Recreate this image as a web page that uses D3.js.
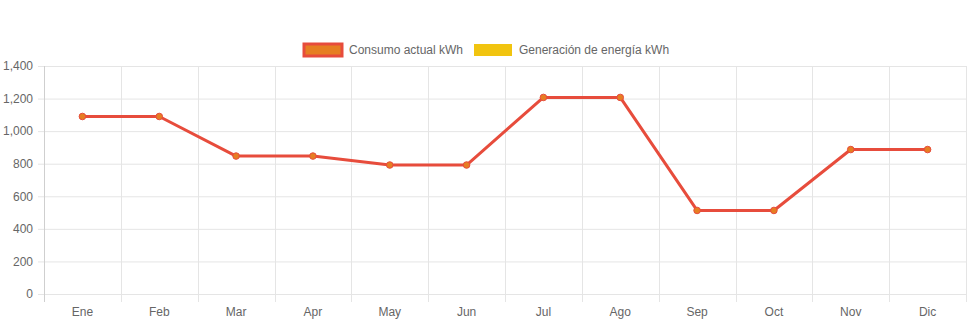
<!DOCTYPE html>
<html>
<head>
<meta charset="utf-8">
<script src="https://cdn.jsdelivr.net/npm/d3@7"></script>
<style>
  html, body { margin: 0; padding: 0; background: #fff; }
  svg { display: block; }
  text { font-family: "Liberation Sans", Arial, Helvetica, sans-serif; }
</style>
</head>
<body>
<svg id="chart" width="971" height="323"></svg>
<script>
// Monthly energy data (kWh)
const months = ["Ene", "Feb", "Mar", "Apr", "May", "Jun", "Jul", "Ago", "Sep", "Oct", "Nov", "Dic"];
const consumo = [1090, 1090, 847, 847, 792, 792, 1207, 1207, 513, 513, 887, 887];
const generacion = [];
const yTicks = [0, 200, 400, 600, 800, 1000, 1200, 1400];
const seriesNames = ["Consumo actual kWh", "Generación de energía kWh"];

const svg = d3.select("#chart");
const W = 971, H = 323;
const margin = { top: 66, right: 5, bottom: 29, left: 44 };
const innerW = W - margin.left - margin.right;
const innerH = H - margin.top - margin.bottom;

const x = d3.scaleBand().domain(months).range([margin.left, margin.left + innerW]);
const y = d3.scaleLinear().domain([0, 1400]).range([margin.top + innerH, margin.top]);

const gridColor = "#e5e5e5";
const textColor = "#666";

// Horizontal grid lines with left tick marks
const yAxis = d3.axisLeft(y)
  .tickValues(yTicks)
  .tickSize(-innerW - 6)
  .tickFormat(d3.format(","));
const gy = svg.append("g")
  .attr("transform", `translate(${margin.left - 6 + 6},0)`)
  .call(yAxis);
gy.select(".domain").remove();
gy.selectAll(".tick line")
  .attr("x1", -6).attr("x2", innerW)
  .attr("stroke", gridColor);
gy.selectAll(".tick text")
  .attr("x", -11)
  .attr("fill", textColor)
  .style("font-size", "12px");

// Vertical grid lines at category boundaries
const bounds = months.map(m => x(m)).concat([margin.left + innerW]);
svg.append("g").selectAll("line")
  .data(bounds)
  .join("line")
  .attr("x1", d => Math.round(d) + 0.5).attr("x2", d => Math.round(d) + 0.5)
  .attr("y1", margin.top).attr("y2", margin.top + innerH + 8)
  .attr("stroke", (d, i) => i === 0 ? "#cfcfcf" : gridColor);

// X axis labels
const gx = svg.append("g")
  .attr("transform", `translate(0,${margin.top + innerH})`)
  .call(d3.axisBottom(x).tickSize(0).tickPadding(13));
gx.select(".domain").remove();
gx.selectAll(".tick text")
  .attr("fill", textColor)
  .style("font-size", "12px");

// Consumption line
const line = d3.line()
  .x((d, i) => x(months[i]) + x.bandwidth() / 2)
  .y(d => y(d));

svg.append("path")
  .datum(consumo)
  .attr("d", line)
  .attr("fill", "none")
  .attr("stroke", "#e74c3c")
  .attr("stroke-width", 3)
  .attr("stroke-linejoin", "round");

svg.append("g").selectAll("circle")
  .data(consumo)
  .join("circle")
  .attr("cx", (d, i) => x(months[i]) + x.bandwidth() / 2)
  .attr("cy", d => y(d))
  .attr("r", 3.3)
  .attr("fill", "#e67e22")
  .attr("stroke", "#e74c3c")
  .attr("stroke-width", 1);

// Generation line (no readings)
if (generacion.length) {
  svg.append("path")
    .datum(generacion)
    .attr("d", line)
    .attr("fill", "none")
    .attr("stroke", "#f1c40f")
    .attr("stroke-width", 3);
}

// Legend
const legend = svg.append("g").attr("transform", "translate(0,50)");
const legendItems = [
  { name: seriesNames[0], fill: "#e67e22", stroke: "#e74c3c", x: 303 },
  { name: seriesNames[1], fill: "#f1c40f", stroke: "#f1c40f", x: 473 }
];
legendItems.forEach(it => {
  legend.append("rect")
    .attr("x", it.x + 1).attr("y", -6)
    .attr("width", 38).attr("height", 12)
    .attr("fill", it.fill)
    .attr("stroke", it.stroke)
    .attr("stroke-width", it.stroke === it.fill ? 0 : 3);
  legend.append("text")
    .attr("x", it.x + 46).attr("y", 0)
    .attr("dy", "0.35em")
    .attr("fill", textColor)
    .style("font-size", "12px")
    .text(it.name);
});
</script>
</body>
</html>
